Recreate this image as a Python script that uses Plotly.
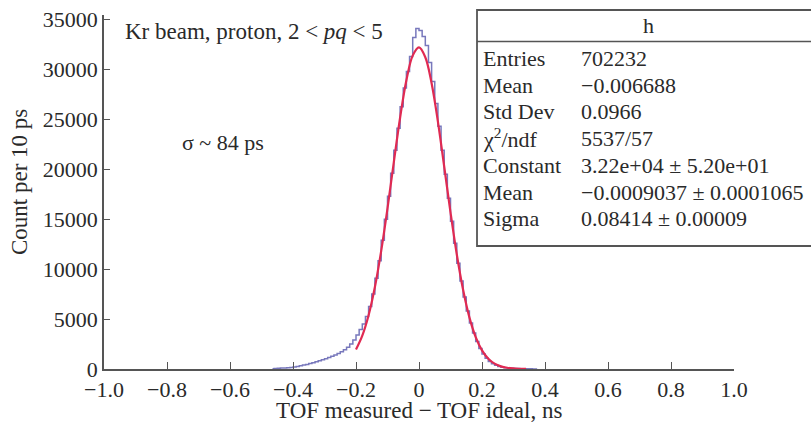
import plotly.graph_objects as go

# ---------------- data ----------------
BIN_START = -0.47      # left edge of the first 10 ps bin (ns)
BIN_WIDTH = 0.01       # ns
counts = [30, 60, 80, 100, 110, 130, 150, 200,
          260, 320, 390, 460, 540, 620, 720, 820, 920, 1030,
          1150, 1270, 1400, 1550, 1720, 1920, 2180, 2500, 2900, 3400,
          3950, 4500, 5250, 6250, 7500, 9100, 10850, 12900, 15000, 17300,
          19600, 21900, 24100, 26250, 28150, 29800, 31300, 33200, 34100, 33900,
          33300, 32400, 30700, 28800, 26600, 24300, 21900, 19500, 17100, 14800,
          12600, 10600, 8800, 7200, 5800, 4600, 3600, 2750, 2050, 1500,
          1080, 760, 530, 370, 260, 180, 130, 95, 70, 55,
          45, 35, 28, 22, 15, 10, 5]

fit_x = [-0.20, -0.18, -0.16, -0.14, -0.12, -0.10, -0.08, -0.06, -0.04, -0.02,
         0.00, 0.02, 0.04, 0.06, 0.08, 0.10, 0.12, 0.14, 0.16, 0.18,
         0.20, 0.22, 0.24, 0.26, 0.28, 0.30, 0.32, 0.34]
fit_y = [1960, 3350, 5390, 8210, 11830, 16090, 20700, 25160, 28910, 31380,
         32200, 31220, 28610, 24780, 20280, 15690, 11470, 7930, 5170, 3190,
         1860, 1030, 535, 263, 122, 54, 22, 8]

x_tickvals = [-1.0, -0.8, -0.6, -0.4, -0.2, 0.0, 0.2, 0.4, 0.6, 0.8, 1.0]
x_ticktext = ["\u22121.0", "\u22120.8", "\u22120.6", "\u22120.4", "\u22120.2", "0",
              "0.2", "0.4", "0.6", "0.8", "1.0"]
y_tickvals = [0, 5000, 10000, 15000, 20000, 25000, 30000, 35000]

stats_labels = ["Entries", "Mean", "Std Dev", "\u03c7<sup>2</sup>/ndf",
                "Constant", "Mean", "Sigma"]
stats_values = ["702232", "\u22120.006688", "0.0966", "5537/57",
                "3.22e+04 \u00b1 5.20e+01", "\u22120.0009037 \u00b1 0.0001065",
                "0.08414 \u00b1 0.00009"]

# ---------------- figure ----------------
FONT = "Liberation Serif, Times New Roman, serif"
TXT = "#2a2a2a"
HIST_C = "#7878bc"
FIT_C = "#e02a52"

centers = [BIN_START + BIN_WIDTH * (i + 0.5) for i in range(len(counts))]

fig = go.Figure()
fig.add_trace(go.Scatter(x=centers, y=counts, mode="lines",
                         line=dict(color=HIST_C, width=1.5, shape="hvh"),
                         showlegend=False, hoverinfo="skip"))
fig.add_trace(go.Scatter(x=fit_x, y=fit_y, mode="lines",
                         line=dict(color=FIT_C, width=2.2, shape="spline"),
                         showlegend=False, hoverinfo="skip"))

W, H = 811, 424
L, R, T, B = 104, 77, 15, 55
fig.update_layout(
    width=W, height=H,
    margin=dict(l=L, r=R, t=T, b=B),
    paper_bgcolor="white", plot_bgcolor="white",
    font=dict(family=FONT, size=22, color=TXT),
    showlegend=False,
)
fig.update_xaxes(range=[-1.0, 1.0], tickvals=x_tickvals, ticktext=x_ticktext,
                 ticks="inside", ticklen=7, tickwidth=1.3, tickcolor="#555",
                 showline=True, linecolor="#555", linewidth=1.5,
                 showgrid=False, zeroline=False, automargin=False,
                 ticklabelstandoff=0,
                 tickfont=dict(family=FONT, size=22, color=TXT))
fig.update_yaxes(range=[0, 35450], tickvals=y_tickvals, tickformat="d",
                 ticks="inside", ticklen=6, tickwidth=1.3, tickcolor="#555",
                 showline=True, linecolor="#555", linewidth=1.5,
                 showgrid=False, zeroline=False, automargin=False,
                 tickfont=dict(family=FONT, size=22, color=TXT))

# pixel -> paper helpers
def px_x(p):
    return (p - L) / (W - L - R)

def px_y(p):
    return 1 - (p - T) / (H - T - B)

fig.add_annotation(x=px_x(419), y=px_y(410), xref="paper", yref="paper",
                   text="TOF measured \u2212 TOF ideal, ns", showarrow=False,
                   font=dict(family=FONT, size=23, color=TXT),
                   xanchor="center", yanchor="middle")
fig.add_annotation(x=px_x(20), y=px_y(182), xref="paper", yref="paper",
                   text="Count per 10 ps", textangle=-90, showarrow=False,
                   font=dict(family=FONT, size=23, color=TXT),
                   xanchor="center", yanchor="middle")
fig.add_annotation(x=px_x(123), y=px_y(32), xref="paper", yref="paper",
                   text="Kr beam, proton, 2 &lt; <i>pq</i> &lt; 5", showarrow=False,
                   font=dict(family=FONT, size=23, color=TXT),
                   xanchor="left", yanchor="middle")
fig.add_annotation(x=px_x(180), y=px_y(142), xref="paper", yref="paper",
                   text="\u03c3 ~ 84 ps", showarrow=False,
                   font=dict(family=FONT, size=22, color=TXT),
                   xanchor="left", yanchor="middle")

# stats box
box_l, box_t, box_b, box_r = 477, 10, 246, 822
fig.add_shape(type="rect", xref="paper", yref="paper",
              x0=px_x(box_l), x1=px_x(box_r), y0=px_y(box_b), y1=px_y(box_t),
              line=dict(color="#555", width=1.8), fillcolor="white", layer="above")
fig.add_shape(type="line", xref="paper", yref="paper",
              x0=px_x(box_l), x1=px_x(box_r), y0=px_y(41.5), y1=px_y(41.5),
              line=dict(color="#555", width=1.5), layer="above")
fig.add_annotation(x=px_x(648), y=px_y(26), xref="paper", yref="paper",
                   text="h", showarrow=False,
                   font=dict(family=FONT, size=22, color=TXT),
                   xanchor="center", yanchor="middle")
row_y = [58, 85, 111.5, 138, 165, 192, 218.5]
for lab, val, yy in zip(stats_labels, stats_values, row_y):
    fig.add_annotation(x=px_x(481), y=px_y(yy), xref="paper", yref="paper",
                       text=lab, showarrow=False,
                       font=dict(family=FONT, size=22, color=TXT),
                       xanchor="left", yanchor="middle")
    fig.add_annotation(x=px_x(579), y=px_y(yy), xref="paper", yref="paper",
                       text=val, showarrow=False,
                       font=dict(family=FONT, size=22, color=TXT),
                       xanchor="left", yanchor="middle")

fig.write_html("out.html")
